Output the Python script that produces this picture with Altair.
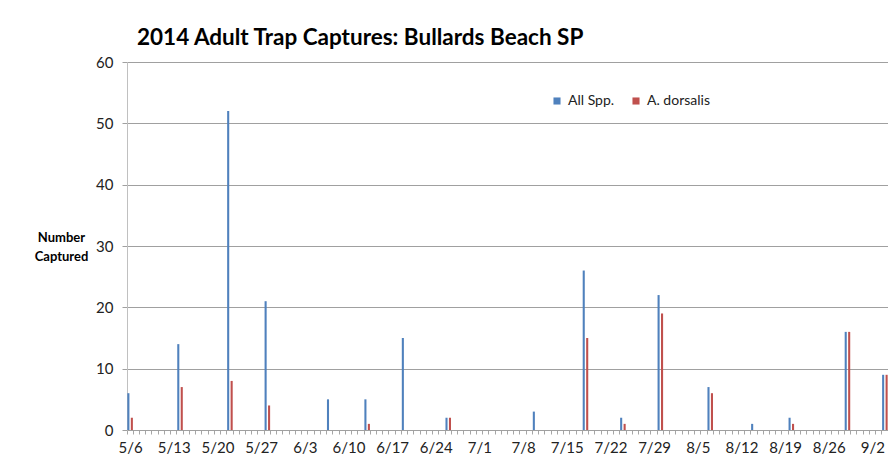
import altair as alt
import pandas as pd

# ---- data ----
sample_dates = ["5/6", "5/14", "5/22", "5/28", "6/7", "6/13", "6/19", "6/26", "7/10",
                "7/18", "7/24", "7/30", "8/7", "8/14", "8/20", "8/29", "9/4"]
all_spp = [6, 14, 52, 21, 5, 5, 15, 2, 3, 26, 2, 22, 7, 1, 2, 16, 9]
a_dorsalis = [2, 7, 8, 4, 0, 1, 0, 2, 0, 15, 1, 19, 6, 0, 1, 16, 9]
series_names = ["All Spp.", "A. dorsalis"]
series_colors = ["#4F81BD", "#C0504D"]

# category axis: every day of the season
days = pd.date_range("2014-05-06", "2014-09-04", freq="D")
day_labels = [f"{d.month}/{d.day}" for d in days]
shown_labels = day_labels[::7]

rows = []
for d, a, b in zip(sample_dates, all_spp, a_dorsalis):
    rows.append({"date": d, "series": series_names[0], "count": a})
    rows.append({"date": d, "series": series_names[1], "count": b})
df = pd.DataFrame(rows)

FONT = "Lato"
label_list = "[" + ",".join(f"'{s}'" for s in shown_labels) + "]"

chart = alt.Chart(df).mark_bar().encode(
    x=alt.X("date:N", sort=day_labels,
            scale=alt.Scale(domain=day_labels, paddingInner=0, paddingOuter=0),
            axis=alt.Axis(title=None, labelAngle=0, bandPosition=0, labelOffset=0.5,
                          labelExpr=f"indexof({label_list}, datum.value) >= 0 ? datum.value : ''",
                          labelOverlap=False, labelBound=False, labelFont=FONT, labelFontSize=15,
                          labelColor="#222", labelPadding=6,
                          tickSize=4, tickColor="#a6a6a6", domainColor="#a0a0a0",
                          grid=False)),
    xOffset=alt.XOffset("series:N", sort=series_names,
                        scale=alt.Scale(domain=series_names, paddingInner=0.4, paddingOuter=0.1)),
    y=alt.Y("count:Q",
            scale=alt.Scale(domain=[0, 60], nice=False),
            axis=alt.Axis(values=[0, 10, 20, 30, 40, 50, 60],
                          title=["Number", "Captured"], titleAngle=0,
                          titleX=-66, titleY=175, titleAlign="center", titleBaseline="middle",
                          titleFont=FONT, titleFontSize=13, titleFontWeight="bold",
                          titleColor="#000", titleLineHeight=19,
                          labelFont=FONT, labelFontSize=15, labelColor="#222",
                          labelPadding=9, tickSize=5, tickColor="#a0a0a0",
                          domainColor="#c0c0c0", gridColor="#a0a0a0", gridWidth=1)),
    color=alt.Color("series:N", sort=series_names,
                    scale=alt.Scale(domain=series_names, range=series_colors),
                    legend=alt.Legend(title=None, orient="none", direction="horizontal",
                                      legendX=423, legendY=32, symbolType="square",
                                      symbolSize=50, labelFont=FONT, labelFontSize=14,
                                      labelColor="#222", columnPadding=14,
                                      symbolStrokeWidth=0)),
).properties(
    width=761, height=368,
    title=alt.TitleParams("2014 Adult Trap Captures: Bullards Beach SP",
                          anchor="start", frame="group", dx=10, offset=6, font=FONT,
                          fontSize=22.5, fontWeight="bold", color="#000"),
    autosize=alt.AutoSizeParams(type="none"),
    padding={"left": 119, "top": 54, "right": 0, "bottom": 32},
).configure_view(stroke=None)

chart.save("out.html", embed_options={"renderer": "svg", "actions": False})
